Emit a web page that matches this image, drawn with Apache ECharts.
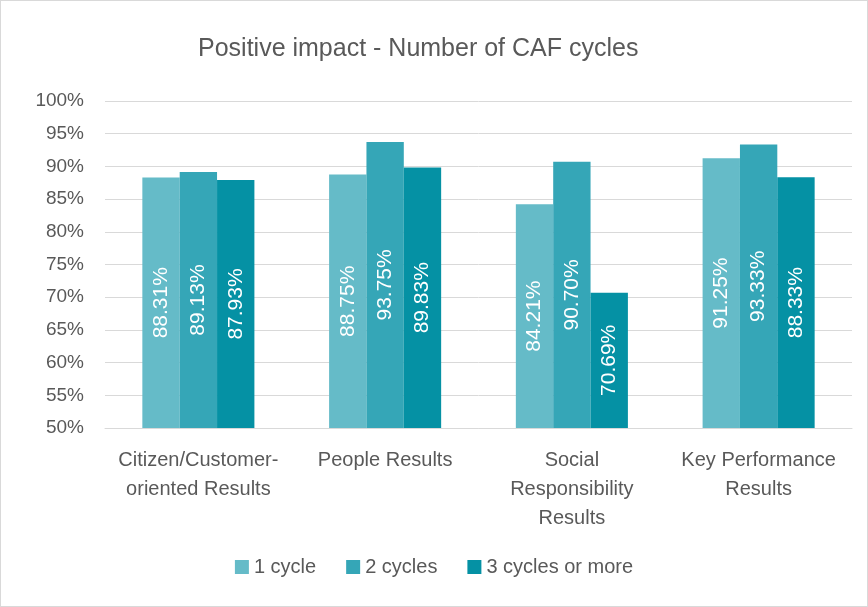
<!DOCTYPE html>
<html>
<head>
<meta charset="utf-8">
<script src="https://cdn.jsdelivr.net/npm/echarts@6/dist/echarts.min.js"></script>
<style>
  html, body { margin: 0; padding: 0; background: #fff; }
  #chart { width: 866px; height: 605px; border: 1px solid #d9d9d9; }
</style>
</head>
<body>
<div id="chart"></div>
<script>
  // data
  var categories = [
    'Citizen/Customer-\noriented Results',
    'People Results',
    'Social\nResponsibility\nResults',
    'Key Performance\nResults'
  ];
  var seriesNames = ['1 cycle', '2 cycles', '3 cycles or more'];
  var oneCycle = [88.31, 88.75, 84.21, 91.25];
  var twoCycles = [89.13, 93.75, 90.70, 93.33];
  var threeCycles = [87.93, 89.83, 70.69, 88.33];
  var colors = ['#65bbc8', '#35a6b7', '#0591a4'];

  var chart = echarts.init(document.getElementById('chart'));

  function makeSeries(name, data, i) {
    return {
      name: name,
      type: 'bar',
      data: data,
      barGap: '0%',
      barCategoryGap: '40%',
      itemStyle: { color: colors[i] },
      label: {
        show: true,
        position: 'inside',
        rotate: 90,
        color: '#ffffff',
        fontSize: 21,
        fontFamily: 'Liberation Sans',
        formatter: function (p) { return p.value.toFixed(2) + '%'; }
      }
    };
  }

  chart.setOption({
    animation: false,
    title: {
      text: 'Positive impact - Number of CAF cycles',
      left: 192,
      top: 31,
      textStyle: { fontSize: 25, fontWeight: 'normal', color: '#595959', fontFamily: 'Liberation Sans' }
    },
    legend: {
      bottom: 24,
      left: 'center',
      itemWidth: 14,
      itemHeight: 14,
      itemGap: 30,
      icon: 'rect',
      textStyle: { fontSize: 20, color: '#595959', fontFamily: 'Liberation Sans' },
      data: seriesNames
    },
    grid: { left: 104, right: 15, top: 100, bottom: 178 },
    xAxis: {
      type: 'category',
      data: categories,
      axisLine: { lineStyle: { color: '#d9d9d9' } },
      axisTick: { show: false },
      axisLabel: {
        interval: 0,
        margin: 18,
        fontSize: 20,
        lineHeight: 29,
        color: '#595959',
        fontFamily: 'Liberation Sans'
      }
    },
    yAxis: {
      type: 'value',
      min: 50,
      max: 100,
      interval: 5,
      axisLine: { show: false },
      axisTick: { show: false },
      splitLine: { lineStyle: { color: '#d9d9d9' } },
      axisLabel: {
        formatter: '{value}%',
        margin: 21,
        fontSize: 19,
        color: '#595959',
        fontFamily: 'Liberation Sans'
      }
    },
    series: [
      makeSeries(seriesNames[0], oneCycle, 0),
      makeSeries(seriesNames[1], twoCycles, 1),
      makeSeries(seriesNames[2], threeCycles, 2)
    ]
  });
</script>
</body>
</html>
